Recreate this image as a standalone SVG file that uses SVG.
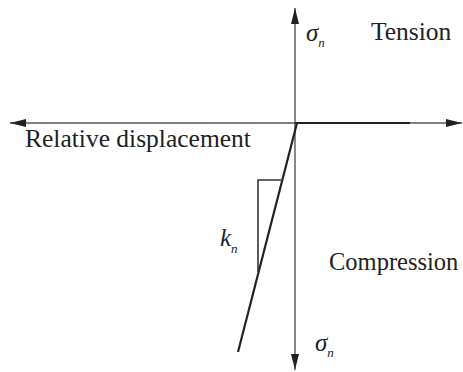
<svg xmlns="http://www.w3.org/2000/svg" width="463" height="372" viewBox="0 0 463 372">
<style>
.axis{stroke:#555;stroke-width:1.4;fill:none}
.curve{stroke:#222;stroke-width:2.2;fill:none}
.thin{stroke:#333;stroke-width:1.6;fill:none}
.t{font-family:'Liberation Serif','Times New Roman','DejaVu Serif','Noto Serif',serif;fill:#222}
.lbl{font-size:25.5px}
.sym{font-size:25px;font-style:italic}
.sub{font-size:13px;font-style:italic}
</style>
<defs>
<marker id="arr" viewBox="0 0 16 8" refX="16" refY="4" markerWidth="16" markerHeight="8" markerUnits="userSpaceOnUse" orient="auto">
<path d="M0,0 L16,4 L0,8 Z" fill="#222"/>
</marker>
</defs>
<g id="connectors">
<line class="axis" x1="295" y1="123" x2="295" y2="8" marker-end="url(#arr)"/>
<line class="axis" x1="295" y1="123" x2="295" y2="370" marker-end="url(#arr)"/>
<line class="axis" x1="295" y1="123" x2="10" y2="123" marker-end="url(#arr)"/>
<line class="axis" x1="295" y1="123" x2="462" y2="123" marker-end="url(#arr)"/>
<line class="curve" x1="295" y1="123" x2="410" y2="123"/>
<line class="curve" x1="297" y1="123" x2="238" y2="352"/>
<polyline class="thin" points="281,180 258,180 258,272"/>
</g>
<g id="labels">
<text class="t sym" x="306" y="41">σ<tspan class="sub" dy="6">n</tspan></text>
<text class="t lbl" x="371" y="40">Tension</text>
<text class="t lbl" x="25" y="147">Relative displacement</text>
<text class="t sym" x="220" y="246">k<tspan class="sub" dy="7">n</tspan></text>
<text class="t lbl" x="329" y="270" style="font-size:24.5px">Compression</text>
<text class="t sym" x="315" y="351">σ<tspan class="sub" dy="6">n</tspan></text>
</g>
</svg>
